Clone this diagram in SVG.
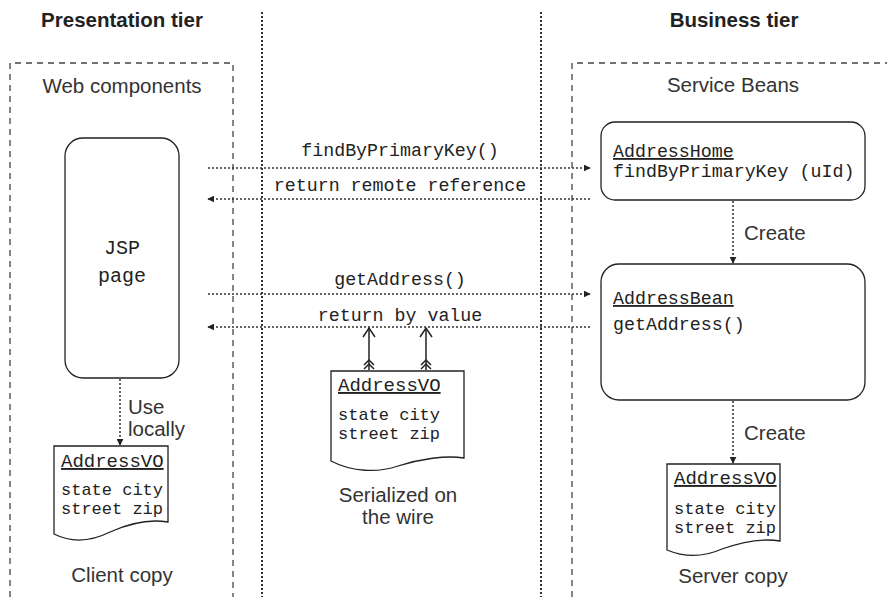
<svg xmlns="http://www.w3.org/2000/svg" width="887" height="597" viewBox="0 0 887 597">
<style>
.bold{font-family:"Liberation Sans",Arial,sans-serif;font-weight:bold;font-size:20.5px;fill:#222}
.sans{font-family:"Liberation Sans",Arial,sans-serif;font-size:20.5px;fill:#333}
.mono{font-family:"Liberation Mono","Courier New",monospace;font-size:18.3px;fill:#222}
.body{font-family:"Liberation Mono","Courier New",monospace;font-size:17px;fill:#222}
.vo{font-family:"Liberation Mono","Courier New",monospace;font-size:19px;fill:#222;text-decoration:underline}
.box{fill:#fff;stroke:#222;stroke-width:1.3}
.region{fill:none;stroke:#444;stroke-width:1.3;stroke-dasharray:6 5}
.tierline{fill:none;stroke:#333;stroke-width:2;stroke-dasharray:2 2}
.dot{fill:none;stroke:#333;stroke-width:1.5;stroke-dasharray:2 2}
.solid{fill:none;stroke:#222;stroke-width:1.5}
</style>
<defs>
<marker id="ah" viewBox="0 0 10 10" refX="9" refY="5" markerWidth="7" markerHeight="7" markerUnits="userSpaceOnUse" orient="auto">
<path d="M0,0 L10,5 L0,10 Z" fill="#222"/>
</marker>
</defs>
<rect width="887" height="597" fill="#fff"/>

<g id="tiers">
<text class="bold" x="122" y="27" text-anchor="middle">Presentation tier</text>
<text class="bold" x="734" y="27" text-anchor="middle">Business tier</text>
<line class="tierline" x1="262" y1="12" x2="262" y2="597"/>
<line class="tierline" x1="541" y1="12" x2="541" y2="597"/>
</g>

<g id="web-components">
<path class="region" d="M10,597 V63 H233 V597"/>
<text class="sans" x="122" y="93" text-anchor="middle">Web components</text>
</g>

<g id="service-beans">
<path class="region" d="M572,597 V63 H887"/>
<text class="sans" x="733" y="92" text-anchor="middle">Service Beans</text>
</g>

<g id="jsp-page">
<rect class="box" x="65" y="138" width="114" height="240" rx="18"/>
<text class="mono" x="122" y="254" text-anchor="middle" style="font-size:20px">JSP</text>
<text class="mono" x="122" y="282" text-anchor="middle" style="font-size:20px">page</text>
</g>

<g id="address-home">
<rect class="box" x="601" y="122" width="264" height="78" rx="14"/>
<text class="vo" x="613" y="157" style="font-size:18.3px">AddressHome</text>
<text class="mono" x="613" y="177">findByPrimaryKey (uId)</text>
</g>

<g id="address-bean">
<rect class="box" x="601" y="264" width="264" height="136" rx="18"/>
<text class="vo" x="613" y="304" style="font-size:18.3px">AddressBean</text>
<text class="mono" x="613" y="330">getAddress()</text>
</g>

<g id="client-copy">
<path class="box" d="M54,446 H168 V522 C150,519 130,523 110,532 C92,541 72,543 54,534 Z"/>
<text class="vo" x="61" y="467">AddressVO</text>
<text class="body" x="61" y="495">state city</text>
<text class="body" x="61" y="514">street zip</text>
<text class="sans" x="122" y="582" text-anchor="middle">Client copy</text>
</g>

<g id="wire-copy">
<path class="box" d="M331,371 H464 V458 C446,455 420,459 398,466 C378,473 352,472 331,461 Z"/>
<text class="vo" x="338" y="391">AddressVO</text>
<text class="body" x="338" y="420">state city</text>
<text class="body" x="338" y="439">street zip</text>
<text class="sans" x="398" y="502" text-anchor="middle">Serialized on</text>
<text class="sans" x="398" y="524" text-anchor="middle">the wire</text>
</g>

<g id="server-copy">
<path class="box" d="M667,464 H780 V541 C762,538 742,542 722,549 C704,557 686,558 667,550 Z"/>
<text class="vo" x="674" y="484">AddressVO</text>
<text class="body" x="674" y="514">state city</text>
<text class="body" x="674" y="533">street zip</text>
<text class="sans" x="733" y="583" text-anchor="middle">Server copy</text>
</g>

<g id="connectors">
<line class="dot" x1="208" y1="168" x2="590" y2="168" marker-end="url(#ah)"/>
<text class="mono" x="400" y="156" text-anchor="middle">findByPrimaryKey()</text>
<line class="dot" x1="590" y1="199" x2="208" y2="199" marker-end="url(#ah)"/>
<text class="mono" x="400" y="191" text-anchor="middle">return remote reference</text>
<line class="dot" x1="208" y1="294" x2="590" y2="294" marker-end="url(#ah)"/>
<text class="mono" x="400" y="285" text-anchor="middle">getAddress()</text>
<line class="dot" x1="590" y1="327" x2="208" y2="327" marker-end="url(#ah)"/>
<text class="mono" x="400" y="321" text-anchor="middle">return by value</text>

<line class="dot" x1="733" y1="201" x2="733" y2="263" marker-end="url(#ah)"/>
<text class="sans" x="744" y="240">Create</text>
<line class="dot" x1="733" y1="401" x2="733" y2="463" marker-end="url(#ah)"/>
<text class="sans" x="744" y="440">Create</text>
<line class="dot" x1="120" y1="379" x2="120" y2="445" marker-end="url(#ah)"/>
<text class="sans" x="128" y="414">Use</text>
<text class="sans" x="128" y="436">locally</text>

<line class="solid" x1="369" y1="328" x2="369" y2="370"/>
<path class="solid" d="M363,337 L369,328 L375,337"/>
<path class="solid" d="M364,365 L369,360 L374,365 M364,369 L369,364 L374,369"/>
<line class="solid" x1="426" y1="328" x2="426" y2="370"/>
<path class="solid" d="M420,337 L426,328 L432,337"/>
<path class="solid" d="M421,365 L426,360 L431,365 M421,369 L426,364 L431,369"/>
</g>
</svg>
